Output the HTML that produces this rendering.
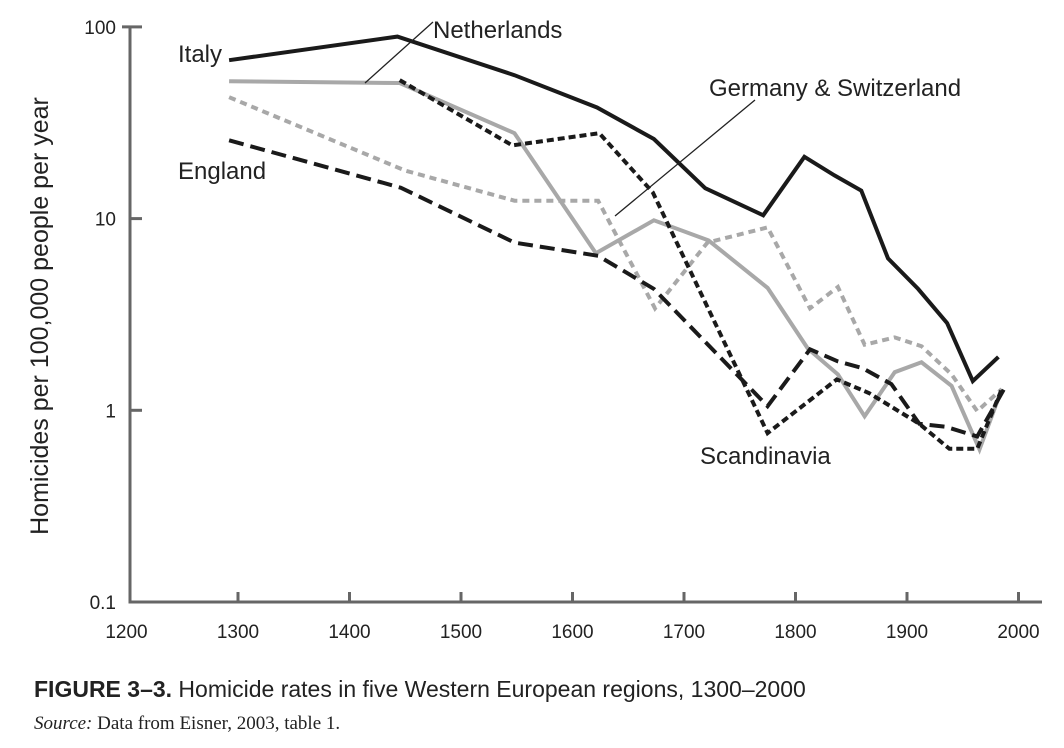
<!DOCTYPE html>
<html><head><meta charset="utf-8"><style>
body{margin:0;background:#fff;}
svg{display:block;font-family:"Liberation Sans",sans-serif;}
</style></head><body>
<svg width="1064" height="748" viewBox="0 0 1064 748">
<g id="axes"></g>
<g id="series"></g>
<text x="178" y="62" font-size="24" fill="#222">Italy</text>
<text x="433" y="38" font-size="24" fill="#222">Netherlands</text>
<line x1="365" y1="83" x2="433" y2="22" stroke="#222" stroke-width="1.3"/>
<text x="709" y="96" font-size="24" fill="#222">Germany &amp; Switzerland</text>
<line x1="615" y1="216" x2="755" y2="100" stroke="#222" stroke-width="1.3"/>
<text x="178" y="179" font-size="24" fill="#222">England</text>
<text x="700" y="464" font-size="24" fill="#222">Scandinavia</text>
<text transform="translate(48,316) rotate(-90)" text-anchor="middle" font-size="25" fill="#222">Homicides per 100,000 people per year</text>
<text x="34" y="697" font-size="23" fill="#222"><tspan font-weight="bold">FIGURE 3–3.</tspan> Homicide rates in five Western European regions, 1300–2000</text>
<text x="34" y="729" font-size="19" fill="#222" font-family="Liberation Serif, serif"><tspan font-style="italic">Source:</tspan> Data from Eisner, 2003, table 1.</text>
</svg>
<script>
const xTicks=[1200,1300,1400,1500,1600,1700,1800,1900,2000];
const yTicks=[0.1,1,10,100];
const yTickLabels=["0.1","1","10","100"];
const italyYears=[1292,1443,1548,1622,1673,1719,1771,1808,1835,1859,1883,1910,1936,1959,1982];
const italyValues=[67,89,56,38,26,14.4,10.4,21,16.8,14,6.2,4.3,2.85,1.42,1.9];
const netherlandsYears=[1292,1445,1548,1621,1673,1722,1775,1811,1838,1862,1889,1913,1940,1965,1985];
const netherlandsValues=[52,51,27.9,6.6,9.8,7.7,4.35,2.1,1.54,0.93,1.58,1.78,1.34,0.625,1.29];
const germanyYears=[1292,1450,1548,1623,1674,1721,1775,1813,1838,1862,1889,1913,1940,1963,1985];
const germanyValues=[43,17.8,12.4,12.4,3.4,7.5,9.0,3.4,4.4,2.2,2.4,2.16,1.54,0.99,1.29];
const englandYears=[1292,1446,1548,1623,1673,1775,1813,1838,1860,1886,1911,1935,1963,1987];
const englandValues=[25.6,14.5,7.5,6.4,4.3,1.05,2.08,1.8,1.66,1.37,0.85,0.82,0.73,1.29];
const scandYears=[1445,1546,1624,1672,1775,1837,1866,1911,1938,1963,1985];
const scandValues=[52.8,24.1,27.9,13.7,0.76,1.45,1.23,0.85,0.63,0.63,1.29];

const NS='http://www.w3.org/2000/svg';
function xS(y){return 238+(y-1300)*1.115;}
function yS(v){return 602-(Math.log10(v)+1)*191.7;}
function mk(tag,attrs,parent){const e=document.createElementNS(NS,tag);for(const k in attrs)e.setAttribute(k,attrs[k]);parent.appendChild(e);return e;}
const axes=document.getElementById('axes');
let ax=mk('path',{d:`M130 ${yS(100)} H122 M130 ${yS(100)} V602 H1042`,stroke:'#666','stroke-width':3,fill:'none'},axes);


xTicks.forEach(t=>{
  const x=xS(t);
  if(t>1200){const l=mk('line',{x1:x,x2:x,y1:602,y2:592,stroke:'#666','stroke-width':3},axes);
  
  }
  const tx=mk('text',{x:x,y:638,'text-anchor':'middle','font-size':19,fill:'#222'},axes);
  tx.textContent=t;
  
  
});
yTicks.forEach((t,i)=>{
  const y=yS(t);
  if(t>0.1){const l=mk('line',{x1:130,x2:142,y1:y,y2:y,stroke:'#666','stroke-width':3},axes);
  
  }
  const tx=mk('text',{x:116,y:y+7,'text-anchor':'end','font-size':19,fill:'#222'},axes);
  tx.textContent=yTickLabels[i];
  
  
});
const ser=document.getElementById('series');
function line(years,vals,color,dash,name){
  const d=years.map((y,i)=>(i?'L':'M')+xS(y).toFixed(1)+' '+yS(vals[i]).toFixed(1)).join(' ');
  const p=mk('path',{d:d,stroke:color,'stroke-width':4,fill:'none','stroke-dasharray':dash,'stroke-linejoin':'miter'},ser);
  
  
}
line(germanyYears,germanyValues,'#a8a8a8','7 5','series-germany-switzerland');
line(netherlandsYears,netherlandsValues,'#a8a8a8','none','series-netherlands');
line(englandYears,englandValues,'#1a1a1a','15 7','series-england');
line(scandYears,scandValues,'#1a1a1a','7 4','series-scandinavia');
line(italyYears,italyValues,'#1a1a1a','none','series-italy');
</script>
</body></html>
